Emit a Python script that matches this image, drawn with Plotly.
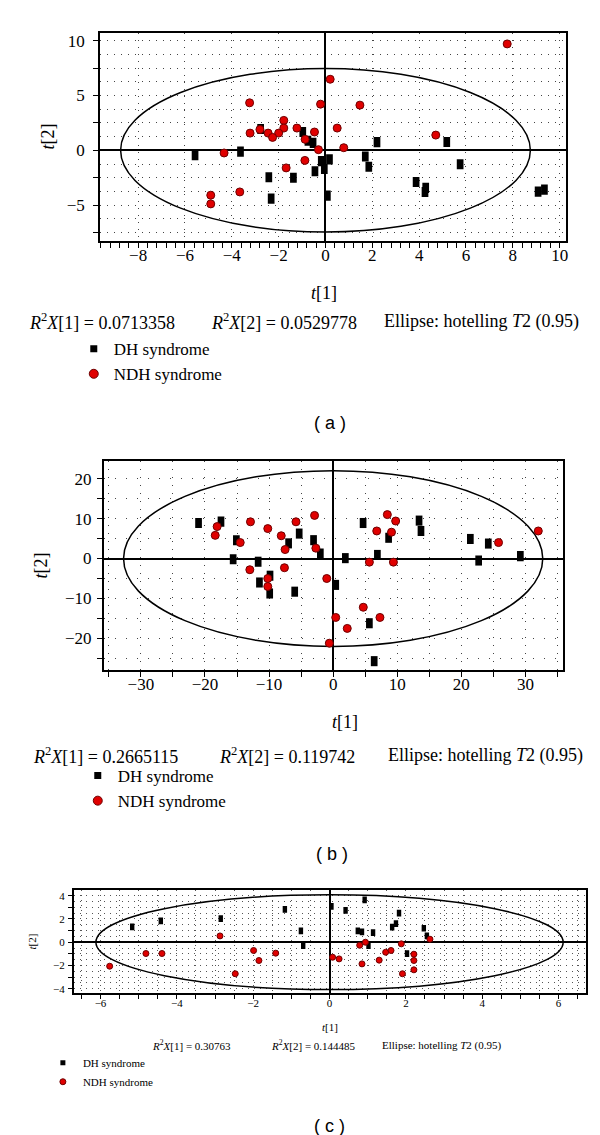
import numpy as np
import plotly.graph_objects as go

W, H = 600, 1135
SERIF = "Liberation Serif"
SANS = "Liberation Sans"

# ---------------- panel (a) scores ----------------
a_dh_t1 = [-5.57, -3.63, -2.77, -0.97, -0.75, -0.53, 2.2, 5.18, 1.7, 1.85, 5.75, 0.17,
           -0.18, -0.05, -0.45, -2.42, -1.37, -2.32, 0.08, 3.87, 4.28, 4.25, 9.08, 9.35]
a_dh_t2 = [-0.45, -0.12, 1.95, 1.67, 0.88, 0.68, 0.75, 0.76, -0.56, -1.5, -1.27, -0.82,
           -0.98, -1.7, -1.9, -2.45, -2.5, -4.4, -4.13, -2.88, -3.42, -3.79, -3.76, -3.58]
a_ndh_t1 = [7.76, 0.2, -3.24, -0.21, 1.47, -1.78, -1.78, -1.22, 0.5, -2.8, -3.22, -2.45, -2.0,
            -2.26, -0.47, -0.87, -0.3, 0.78, -4.33, -0.88, -1.68, -3.66, -4.9, -4.9, 4.71]
a_ndh_t2 = [9.7, 6.48, 4.33, 4.21, 4.12, 2.73, 2.03, 2.03, 2.03, 1.9, 1.57, 1.57, 1.57,
            1.18, 1.67, 1.0, 0.06, 0.24, -0.24, -0.92, -1.6, -3.79, -4.09, -4.88, 1.39]
a_ellipse = (8.75, 7.45)
a_r2 = ["0.0713358", "0.0529778"]

# ---------------- panel (b) scores ----------------
b_dh_t1 = [-21.0, -17.5, -15.1, -15.6, -11.7, -9.85, -11.5, -9.9, -6.95, -6.0, -5.3, -3.06, -2.0,
           0.4, 1.9, 4.67, 6.9, 8.65, 5.65, 6.4, 13.4, 13.7, 21.4, 22.7, 24.2, 29.2]
b_dh_t2 = [8.9, 9.25, 4.6, -0.2, -0.8, -4.3, -6.0, -8.75, 3.8, -8.3, 6.25, 4.6, 1.25,
           -6.6, 0.1, 8.9, 0.9, 5.2, -16.2, -25.7, 9.5, 6.9, 4.9, -0.5, 3.75, 0.6]
b_ndh_t1 = [-18.1, -18.4, -12.9, -10.2, -8.1, -14.5, -7.5, -13.0, -7.6, -10.2, -10.2, -5.8, -2.9,
            -2.7, -1.0, 0.4, 2.2, -0.6, 4.7, 7.3, 5.65, 9.4, 6.8, 9.1, 8.45, 9.75, 25.8, 32.0]
b_ndh_t2 = [8.0, 5.8, 9.2, 7.5, 5.7, 4.0, 2.25, -2.8, -2.3, -5.0, -7.0, 9.2, 10.8,
            2.6, -5.0, -14.75, -17.5, -21.2, -12.2, -14.75, -0.9, -0.9, 6.9, 6.6, 11.0, 9.4, 4.0, 6.9]
b_ellipse = (32.7, 22.0)
b_r2 = ["0.2665115", "0.119742"]

# ---------------- panel (c) scores ----------------
c_dh_t1 = [-5.17, -4.42, -2.85, -1.17, -0.75, -0.69, 0.05, 0.42, 0.92, 0.74, 0.85, 1.14,
           1.02, 1.64, 1.74, 1.82, 2.47, 2.55, 2.03]
c_dh_t2 = [1.31, 1.83, 2.03, 2.83, 0.97, -0.29, 3.09, 2.74, 3.63, 0.97, 0.89, 0.83,
           -0.29, 1.29, 1.6, 2.51, 1.2, 0.54, -0.97]
c_ndh_t1 = [-5.76, -4.81, -4.39, -2.87, -2.47, -1.99, -1.85, -1.41, 0.08, 0.25, 0.79, 0.94,
            0.85, 1.3, 1.47, 1.61, 1.88, 1.91, 2.21, 2.21, 2.21, 2.63]
c_ndh_t2 = [-2.06, -0.97, -0.97, 0.54, -2.71, -0.71, -1.57, -0.94, -1.29, -1.43, -0.26, 0.0,
            -1.86, -1.54, -0.86, -0.71, -0.14, -2.71, -1.03, -1.57, -2.37, 0.26]
c_ellipse = (6.12, 4.07)
c_r2 = ["0.30763", "0.144485"]

groups = ["DH syndrome", "NDH syndrome"]

RED, RED_EDGE = "#e00000", "#6e0000"


def px(x):
    return x / W


def py(y):
    return 1 - y / H


panels = [
    dict(ax="", dh=(a_dh_t1, a_dh_t2), ndh=(a_ndh_t1, a_ndh_t2), ell=a_ellipse,
         msize=8, ssize=7.2, swidth=6.7, lsq=7, lci=9, legend="legend"),
    dict(ax="2", dh=(b_dh_t1, b_dh_t2), ndh=(b_ndh_t1, b_ndh_t2), ell=b_ellipse,
         msize=8, ssize=7.2, swidth=6.7, lsq=7, lci=9, legend="legend2"),
    dict(ax="3", dh=(c_dh_t1, c_dh_t2), ndh=(c_ndh_t1, c_ndh_t2), ell=c_ellipse,
         msize=6, ssize=4.8, swidth=4.4, lsq=5, lci=6, legend="legend3"),
]

fig = go.Figure()

# empty traces so the grid-only overlay axes get drawn
fig.add_trace(go.Scatter(x=[None], y=[None], xaxis="x", yaxis="y4", showlegend=False))
fig.add_trace(go.Scatter(x=[None], y=[None], xaxis="x3", yaxis="y5", showlegend=False))

for p in panels:
    xa, ya = "x" + p["ax"], "y" + p["ax"]
    fig.add_trace(go.Scatter(
        x=p["dh"][0], y=p["dh"][1], xaxis=xa, yaxis=ya, mode="markers", name=groups[0],
        showlegend=False,
        marker=dict(symbol="line-ns", size=p["ssize"], color="black",
                    line=dict(color="black", width=p["swidth"]))))
    fig.add_trace(go.Scatter(
        x=p["ndh"][0], y=p["ndh"][1], xaxis=xa, yaxis=ya, mode="markers", name=groups[1],
        showlegend=False,
        marker=dict(symbol="circle", size=p["msize"], color=RED,
                    line=dict(color=RED_EDGE, width=1))))
    # legend entries
    fig.add_trace(go.Scatter(
        x=[None], y=[None], xaxis=xa, yaxis=ya, mode="markers", name=groups[0],
        legend=p["legend"], marker=dict(symbol="square", size=p["lsq"], color="black")))
    fig.add_trace(go.Scatter(
        x=[None], y=[None], xaxis=xa, yaxis=ya, mode="markers", name=groups[1],
        legend=p["legend"], marker=dict(symbol="circle", size=p["lci"], color=RED,
                                        line=dict(color=RED_EDGE, width=1))))
    fig.add_shape(type="circle", xref=xa, yref=ya, x0=-p["ell"][0], x1=p["ell"][0],
                  y0=-p["ell"][1], y1=p["ell"][1], line=dict(color="black", width=1.5),
                  layer="between")

base = dict(showline=True, linecolor="black", linewidth=1.5, mirror=True,
            zeroline=True, zerolinecolor="black", zerolinewidth=1.5,
            ticks="outside", ticklen=5, tickcolor="black", tickwidth=1,
            gridcolor="#444", gridwidth=1, griddash="1px,6px")
gridonly = dict(showline=False, zeroline=False, ticks="", showticklabels=False,
                gridcolor="#444", gridwidth=1, showgrid=True)

big = dict(family=SERIF, size=17, color="black")
small = dict(family=SERIF, size=11, color="black")

ax = {}
# panel a
ax["xaxis"] = dict(base, domain=[px(92.3), px(559.6)], range=[-9.63, 10.26], anchor="y",
                   dtick=2, tick0=0, showgrid=True, tickfont=big, ticklabelstandoff=-7,
                   minor=dict(dtick=0.4, tick0=0, ticks="outside", ticklen=5,
                              tickcolor="black", showgrid=False))
ax["yaxis"] = dict(base, domain=[py(232.7), py(24)], range=[-8.27, 10.7], anchor="x",
                   dtick=5, tick0=0, showgrid=False, tickfont=big, ticklabelstandoff=5,
                   minor=dict(dtick=2.5, tick0=0, ticks="outside", ticklen=5,
                              tickcolor="black", showgrid=False))
ax["yaxis4"] = dict(gridonly, overlaying="y", anchor="x", range=[-8.27, 10.7],
                    dtick=1.25, tick0=0, griddash="1px,6px")
# panel b
ax["xaxis2"] = dict(base, domain=[px(96), px(556.5)], range=[-35.8, 35.8], anchor="y2",
                    dtick=10, tick0=0, showgrid=True, tickfont=big, ticklabelstandoff=-7,
                    griddash="1px,7px",
                    minor=dict(dtick=5, tick0=0, ticks="outside", ticklen=5,
                               tickcolor="black", showgrid=True, gridcolor="#444",
                               griddash="1px,7px"))
ax["yaxis2"] = dict(base, domain=[py(662.7), py(453.3)], range=[-27.9, 24.4], anchor="x2",
                    dtick=10, tick0=0, showgrid=True, tickfont=big, ticklabelstandoff=2,
                    griddash="1px,10px",
                    minor=dict(dtick=5, tick0=0, ticks="outside", ticklen=5,
                               tickcolor="black", showgrid=True, gridcolor="#444",
                               griddash="1px,10px"))
# panel c
ax["xaxis3"] = dict(base, domain=[px(66), px(580)], range=[-6.7, 6.72], anchor="y3",
                    dtick=2, tick0=0, showgrid=True, tickfont=small, ticklen=4,
                    ticklabelstandoff=-5, griddash="1px,4px", gridcolor="#555",
                    minor=dict(dtick=0.5, tick0=0, ticks="outside", ticklen=4,
                               tickcolor="black", showgrid=True, gridcolor="#555",
                               griddash="1px,4px"))
ax["yaxis3"] = dict(base, domain=[py(986.7), py(883.3)], range=[-4.37, 4.49], anchor="x3",
                    dtick=2, tick0=0, showgrid=False, tickfont=small, ticklen=4,
                    ticklabelstandoff=1,
                    minor=dict(dtick=1, tick0=0, ticks="outside", ticklen=4,
                               tickcolor="black", showgrid=False))
ax["yaxis5"] = dict(gridonly, overlaying="y3", anchor="x3", range=[-4.37, 4.49],
                    dtick=0.5, tick0=0, griddash="1px,5px", gridcolor="#555")

ann = []


def text(x, y, s, size, family=SERIF, xanchor="center", angle=0):
    ann.append(dict(x=px(x), y=py(y), xref="paper", yref="paper", text=s, showarrow=False,
                    xanchor=xanchor, yanchor="middle", textangle=angle,
                    font=dict(family=family, size=size, color="black")))


def caption(y, xs, r2, size):
    text(xs[0], y, "<i>R</i><sup>2</sup><i>X</i>[1] = " + r2[0], size, xanchor="left")
    text(xs[1], y, "<i>R</i><sup>2</sup><i>X</i>[2] = " + r2[1], size, xanchor="left")
    text(xs[2], y, "Ellipse: hotelling <i>T</i>2 (0.95)", size, xanchor="left")


# panel a texts
text(40, 128, "<i>t</i>[2]", 18, angle=-90)
text(317, 285, "<i>t</i>[1]", 18)
caption(313, (19, 202, 375), a_r2, 18)
text(323, 415, "( a )", 18, family=SANS)
# panel b texts
text(33, 558, "<i>t</i>[2]", 18, angle=-90)
text(338, 715, "<i>t</i>[1]", 18)
caption(748, (23, 210, 379), b_r2, 18)
text(325, 847, "( b )", 18, family=SANS)
# panel c texts
text(24, 935, "<i>t</i>[2]", 11, angle=-90)
text(323, 1021, "<i>t</i>[1]", 11)
caption(1039, (142, 262, 373), c_r2, 11)
text(323, 1120, "( c )", 18, family=SANS)

leg = dict(bgcolor="rgba(0,0,0,0)", xanchor="left", yanchor="top", tracegroupgap=0,
           itemclick=False, itemdoubleclick=False)

fig.update_layout(
    width=W, height=H, margin=dict(l=0, r=0, t=0, b=0),
    paper_bgcolor="white", plot_bgcolor="white",
    annotations=ann,
    legend=dict(leg, x=px(66), y=py(323), font=dict(family=SERIF, size=17, color="black")),
    legend2=dict(leg, x=px(70), y=py(751), font=dict(family=SERIF, size=17, color="black")),
    legend3=dict(leg, x=px(35), y=py(1042), font=dict(family=SERIF, size=11, color="black")),
    **ax,
)

fig.write_html("out.html")
